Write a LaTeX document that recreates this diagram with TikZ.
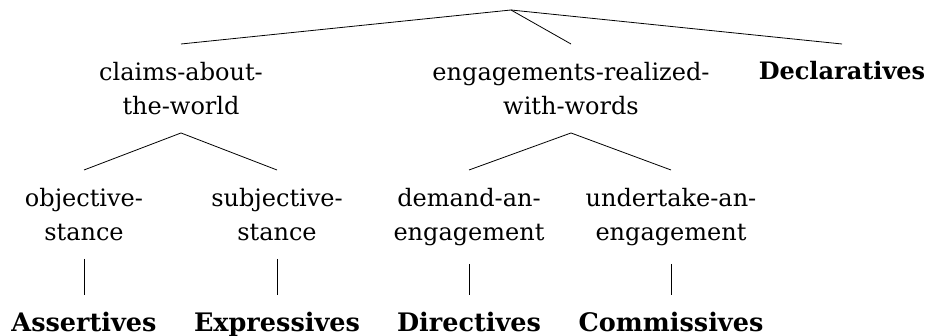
\documentclass[tikz,border=0pt]{standalone}
\usepackage{fontspec}
\setmainfont{DejaVu Serif}

\begin{document}
\begin{tikzpicture}[x=1pt, y=-1pt,
  every node/.style={font=\fontsize{24}{34}\selectfont, align=center, inner xsep=0pt, inner ysep=18pt, anchor=north},
  leaf/.style={font=\fontsize{25.5}{34}\selectfont\bfseries, inner ysep=17pt},
  branch/.style={line width=0.8}]

  %%%%%%%%%% Bounding box %%%%%%%%%%
 \useasboundingbox (0,0) rectangle (927,336);

  %%%%%%%%%% Root %%%%%%%%%%
 \coordinate (root) at (511,10);

  %%%%%%%%%% Level 1 %%%%%%%%%%
 \node (claims) at (181,44) {claims-about-\\the-world};
 \node (engage) at (571,44) {engagements-realized-\\with-words};
 \node[leaf, font=\fontsize{24}{34}\selectfont\bfseries] (decl) at (842,44) {Declaratives};

 \draw [branch] (root) -- (claims.north) ;
 \draw [branch] (root) -- (engage.north) ;
 \draw [branch] (root) -- (decl.north) ;

  %%%%%%%%%% Level 2 %%%%%%%%%%
 \node (objective) at (84,170) {objective-\\stance};
 \node (subjective) at (277,170) {subjective-\\stance};
 \node (demand) at (469,170) {demand-an-\\engagement};
 \node (undertake) at (671,170) {undertake-an-\\engagement};

 \draw [branch] (objective.north) -- (claims.south) -- (subjective.north) ;
 \draw [branch] (demand.north) -- (engage.south) -- (undertake.north) ;

  %%%%%%%%%% Leaves %%%%%%%%%%
 \node[leaf] (assert) at (84,295) {Assertives};
 \node[leaf] (express) at (277,295) {Expressives};
 \node[leaf] (direct) at (469,295) {Directives};
 \node[leaf] (commiss) at (671,295) {Commissives};

 \draw [branch] (objective) -- (assert) ;
 \draw [branch] (subjective) -- (express) ;
 \draw [branch] (demand) -- (direct) ;
 \draw [branch] (undertake) -- (commiss) ;

\end{tikzpicture}
\end{document}
